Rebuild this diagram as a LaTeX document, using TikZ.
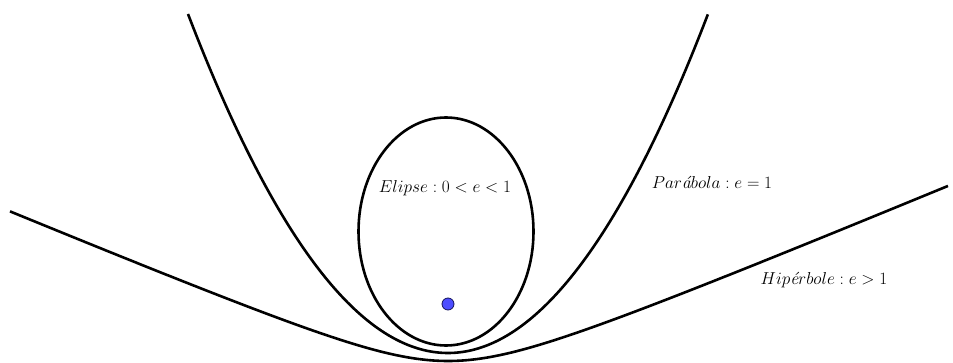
\documentclass[tikz,border=0pt]{standalone}
\usepackage{amsmath}
\begin{document}
\begin{tikzpicture}[x=1pt,y=-1pt,
  curve/.style={line width=2.6pt,black,line join=round},
  lbl/.style={inner sep=0pt,font=\fontsize{17.6}{20}\selectfont},
  focus/.style={circle,fill={rgb,255:red,77;green,77;blue,255},draw={rgb,255:red,20;green,20;blue,90},line width=0.8pt,minimum size=12pt,inner sep=0pt}]
\useasboundingbox (0,0) rectangle (953,363);
% hyperbola
\draw[curve] plot[domain=-4.38:5.0,samples=240,smooth] ({448+100*\x},{361-37*(sqrt(1+1.274*\x*\x)-1)});
% parabola
\draw[curve] plot[domain=-2.6:2.6,samples=200,smooth] ({448+100*\x},{353-50.15*\x*\x});
% ellipse
\draw[curve] (446,231.5) ellipse [x radius=87.5, y radius=114];
\node[focus] (F) at (448,304) {};
\node[lbl] (le) at (445,188) {$Elipse: 0<e<1$};
\node[lbl] (lp) at (712,182) {$Par\text{\itshape á}bola: e=1$};
\node[lbl] (lh) at (824,280) {$Hip\text{\itshape é}rbole: e>1$};
\end{tikzpicture}
\end{document}
